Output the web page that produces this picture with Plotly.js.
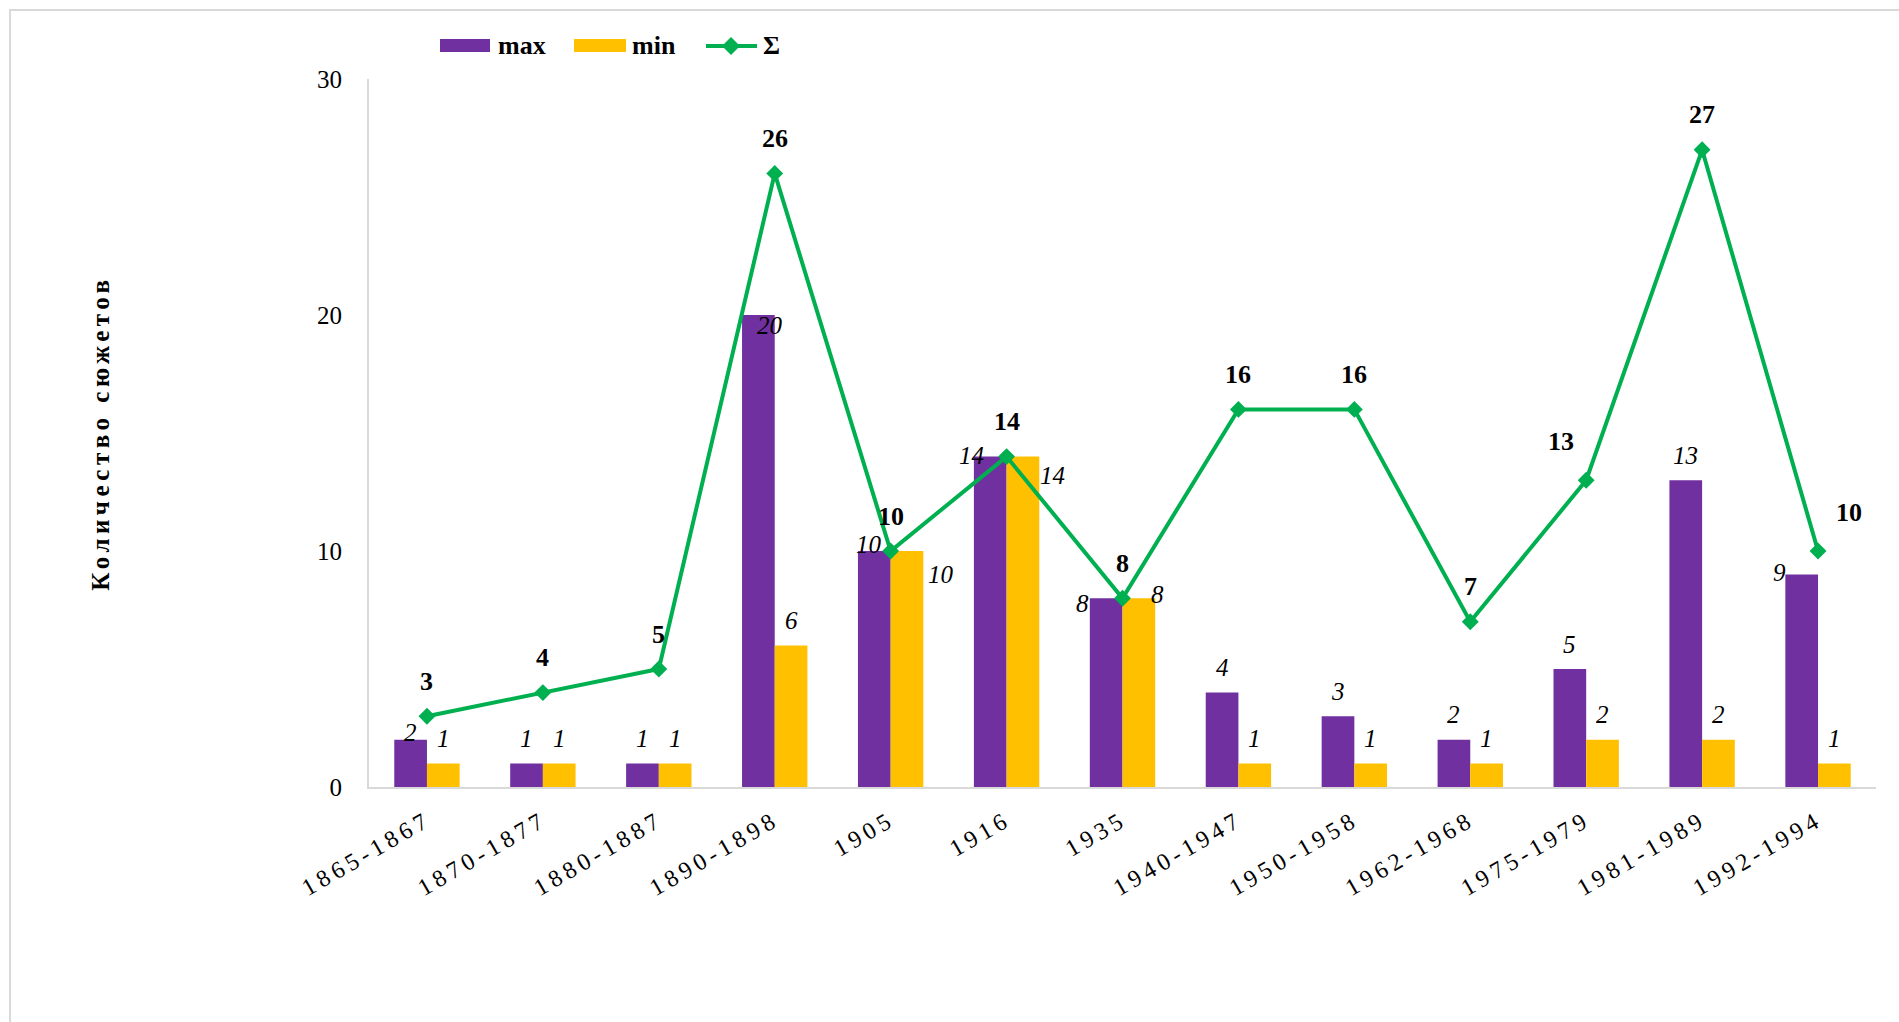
<!DOCTYPE html>
<html>
<head>
<meta charset="utf-8">
<script src="https://cdn.plot.ly/plotly-3.0.1.min.js"></script>
<style>
  html, body { margin: 0; padding: 0; background: #fff; }
  #wrap { position: relative; width: 1899px; height: 1022px; overflow: hidden; }
  #chart { width: 1899px; height: 1022px; }
  #frame { position: absolute; left: 9px; top: 9px; right: -2px; bottom: -2px;
           border-top: 2px solid #d9d9d9; border-left: 2px solid #d9d9d9; pointer-events: none; }
  .xtick text { letter-spacing: 4.5px; }
  .ytitle { letter-spacing: 4.5px; }
</style>
</head>
<body>
<div id="wrap">
  <div id="chart"></div>
  <div id="frame"></div>
</div>
<script>
// ---- data ----
const categories = ["1865-1867", "1870-1877", "1880-1887", "1890-1898", "1905", "1916", "1935",
                    "1940-1947", "1950-1958", "1962-1968", "1975-1979", "1981-1989", "1992-1994"];
const maxVals = [2, 1, 1, 20, 10, 14, 8, 4, 3, 2, 5, 13, 9];
const minVals = [1, 1, 1, 6, 10, 14, 8, 1, 1, 1, 2, 2, 1];
const sumVals = [3, 4, 5, 26, 10, 14, 8, 16, 16, 7, 13, 27, 10];
const yTicks = [0, 10, 20, 30];
const seriesNames = ["max", "min", "Σ"];
const yTitle = "Количество сюжетов";

// ---- style ----
const PURPLE = "#7030a0", GOLD = "#ffc000", GREEN = "#00b050", AXIS = "#d9d9d9";
const FONT = "'Liberation Serif', 'Times New Roman', serif";
const W = 1899, H = 1022;
const M = { l: 369, r: 23, t: 79, b: 235 };
const BARGAP = 0.436;
const plotW = W - M.l - M.r, plotH = H - M.t - M.b;
const catPx = plotW / categories.length;
const barOffsetPx = catPx * (1 - BARGAP) / 4; // centre of each bar from category centre

// label nudges (px, +y up) – Excel-style manual placements
const maxShift = { 0: [0, 7], 3: [12, -10], 4: [-5, 7], 5: [-19, 1], 6: [-24, -5], 12: [-22, 2] };
const minShift = { 4: [34, -23], 5: [30, -19], 6: [19, 4] };
const sumShift = { 10: [-25, 39], 12: [31, 39] };
const BAR_LABEL_DY = 25, SUM_LABEL_DY = 35;

const traces = [
  { type: "bar", name: seriesNames[0], x: categories, y: maxVals,
    marker: { color: PURPLE }, hoverinfo: "x+y+name" },
  { type: "bar", name: seriesNames[1], x: categories, y: minVals,
    marker: { color: GOLD }, hoverinfo: "x+y+name" },
  { type: "scatter", mode: "lines+markers", name: seriesNames[2], x: categories, y: sumVals,
    line: { color: GREEN, width: 4 }, marker: { symbol: "diamond", size: 13, color: GREEN } }
];

const annotations = [];
categories.forEach((c, i) => {
  // x given as category index (category strings like "1905" would be read as positions)
  const ms = maxShift[i] || [0, BAR_LABEL_DY];
  annotations.push({ x: i, y: maxVals[i], xref: "x", yref: "y", text: String(maxVals[i]),
    showarrow: false, xshift: -barOffsetPx + ms[0], yshift: ms[1], yanchor: "middle",
    font: { family: FONT, size: 25, color: "#000", style: "italic" } });
  const ns = minShift[i] || [0, BAR_LABEL_DY];
  annotations.push({ x: i, y: minVals[i], xref: "x", yref: "y", text: String(minVals[i]),
    showarrow: false, xshift: barOffsetPx + ns[0], yshift: ns[1], yanchor: "middle",
    font: { family: FONT, size: 25, color: "#000", style: "italic" } });
  const ss = sumShift[i] || [0, SUM_LABEL_DY];
  annotations.push({ x: i, y: sumVals[i], xref: "x", yref: "y", text: "<b>" + sumVals[i] + "</b>",
    showarrow: false, xshift: ss[0], yshift: ss[1], yanchor: "middle",
    font: { family: FONT, size: 26, color: "#000" } });
});

// custom legend (wide swatches like the original)
const px2x = p => (p - M.l) / plotW;
const px2y = p => (H - M.b - p) / plotH;
const LEG_Y = 46;
const shapes = [
  { type: "rect", xref: "paper", yref: "paper", x0: px2x(440), x1: px2x(490), y0: px2y(52), y1: px2y(39),
    fillcolor: PURPLE, line: { width: 0 } },
  { type: "rect", xref: "paper", yref: "paper", x0: px2x(574), x1: px2x(626), y0: px2y(52), y1: px2y(39),
    fillcolor: GOLD, line: { width: 0 } },
  { type: "line", xref: "paper", yref: "paper", x0: px2x(706), x1: px2x(757), y0: px2y(LEG_Y), y1: px2y(LEG_Y),
    line: { color: GREEN, width: 4 } },
  { type: "path", xref: "paper", yref: "paper",
    path: `M ${px2x(731 - 9)} ${px2y(LEG_Y)} L ${px2x(731)} ${px2y(LEG_Y - 9)} L ${px2x(731 + 9)} ${px2y(LEG_Y)} L ${px2x(731)} ${px2y(LEG_Y + 9)} Z`,
    fillcolor: GREEN, line: { width: 0 } }
];
[[496, seriesNames[0]], [630, seriesNames[1]], [761, seriesNames[2]]].forEach(([p, t]) => {
  annotations.push({ xref: "paper", yref: "paper", x: px2x(p), y: px2y(LEG_Y), xanchor: "left", yanchor: "middle",
    text: "<b>" + t + "</b>", showarrow: false, font: { family: FONT, size: 26, color: "#000" } });
});

const layout = {
  width: W, height: H,
  margin: M,
  paper_bgcolor: "#fff", plot_bgcolor: "#fff",
  font: { family: FONT, color: "#000" },
  barmode: "group", bargap: BARGAP, bargroupgap: 0,
  showlegend: false,
  xaxis: {
    type: "category", range: [-0.5, categories.length - 0.5],
    showline: true, linecolor: AXIS, linewidth: 2, showgrid: false, zeroline: false,
    ticks: "", tickangle: -30, ticklabelstandoff: 8,
    tickfont: { family: FONT, size: 24, color: "#000" }
  },
  yaxis: {
    range: [0, 30], tickvals: yTicks, ticktext: yTicks.map(String),
    showline: true, linecolor: AXIS, linewidth: 2, showgrid: false, zeroline: false,
    ticks: "", ticklabelstandoff: 20,
    tickfont: { family: FONT, size: 25, color: "#000" },
    title: { text: "<b>" + yTitle + "</b>", standoff: 200, font: { family: FONT, size: 25, color: "#000" } }
  },
  shapes: shapes,
  annotations: annotations
};

Plotly.newPlot("chart", traces, layout, { displayModeBar: false });
</script>
</body>
</html>
